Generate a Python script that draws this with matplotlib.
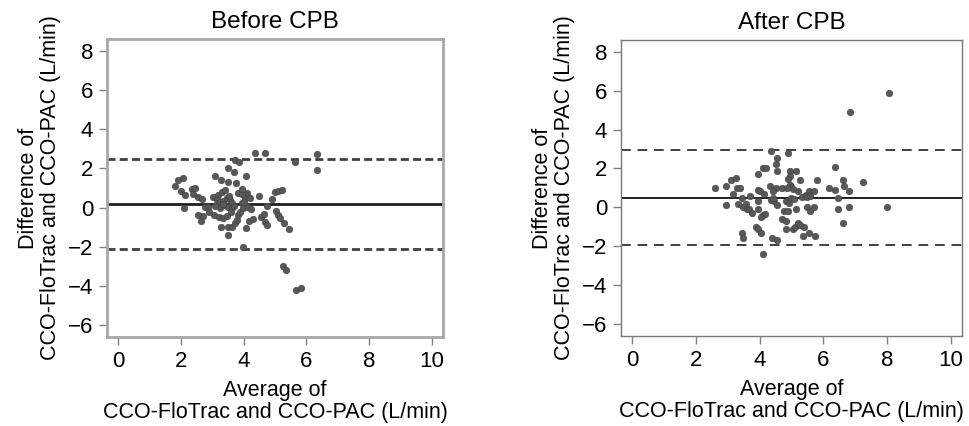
import matplotlib
matplotlib.use('Agg')
import matplotlib.pyplot as plt
import numpy as np

plt.rcParams['font.family'] = ['Liberation Sans', 'DejaVu Sans']

# Before CPB: average (x) and difference (y), L/min
before_avg = [4.36, 4.69, 5.65, 6.33, 6.34, 3.72, 3.85, 3.49, 3.69, 4.09,
              3.09, 3.28, 3.49, 3.76, 2.06, 1.91, 1.82, 2.01, 2.14, 2.35,
              2.46, 2.56, 2.67, 2.09, 2.78, 2.88, 2.56, 2.72, 2.63, 3.04,
              3.20, 3.30, 3.41, 3.15, 3.25, 3.36, 3.47, 3.57, 3.62, 3.25,
              3.39, 3.49, 3.64, 3.06, 3.23, 3.35, 3.46, 3.29, 3.49, 3.62,
              3.49, 3.72, 3.78, 3.83, 3.88, 3.94, 4.04, 4.12, 4.20, 3.83,
              3.94, 3.99, 4.15, 4.23, 4.09, 4.17, 4.30, 3.99, 4.48, 4.57,
              4.65, 4.69, 4.73, 4.76, 4.89, 4.99, 5.10, 5.23, 5.02, 5.10,
              5.15, 5.28, 5.43, 5.27, 5.36, 5.68, 5.83, 3.94, 2.90, 3.55,
              3.70, 3.33, 3.60, 4.00, 2.40, 3.10]
before_diff = [2.81, 2.81, 2.31, 2.72, 1.90, 2.43, 2.31, 2.00, 1.80, 1.62,
               1.62, 1.43, 1.33, 1.24, 1.53, 1.41, 1.12, 0.85, 0.65, 0.95,
               1.02, 0.56, 0.44, 0.00, 0.02, 0.02, -0.37, -0.41, -0.68, 0.56,
               0.65, 0.82, 0.88, 0.39, 0.31, 0.34, 0.48, 0.39, 0.22, 0.00,
               0.14, 0.05, -0.03, -0.37, -0.46, -0.51, -0.41, -1.00, -1.00, -0.97,
               -1.39, -0.80, -0.63, -0.37, -0.20, 0.22, 0.48, 0.73, 0.51, 0.73,
               0.68, -0.03, 0.05, -0.07, -1.02, -0.68, -0.60, -2.00, 0.61, -0.46,
               -0.34, -0.71, -0.88, 0.10, 0.43, 0.82, 0.85, 0.90, -0.17, -0.37,
               -0.54, -0.80, -1.09, -2.96, -3.18, -4.20, -4.08, 0.95, -0.20, 0.60,
               0.10, 0.20, -0.20, 0.30, 0.70, 0.10]
before_bias = 0.17
before_loa = [2.48, -2.12]

# After CPB
after_avg = [8.05, 6.84, 7.99, 4.35, 4.90, 4.54, 4.50, 4.54, 3.95, 4.09,
             4.20, 4.94, 5.15, 4.96, 4.90, 5.28, 4.96, 4.99, 5.79, 6.35,
             6.61, 6.64, 6.79, 7.24, 6.19, 6.35, 6.45, 6.45, 6.79, 6.60,
             2.60, 2.95, 3.10, 3.26, 3.15, 3.29, 3.39, 3.45, 3.58, 3.70,
             3.31, 2.95, 3.47, 3.60, 3.68, 3.76, 3.95, 4.02, 4.14, 3.95,
             3.96, 4.12, 4.17, 4.04, 3.88, 3.95, 4.05, 3.44, 3.49, 4.09,
             4.40, 4.54, 4.33, 4.50, 4.41, 4.70, 4.36, 4.44, 4.54, 4.42,
             4.83, 4.92, 4.99, 5.08, 5.20, 5.34, 5.44, 5.54, 5.70, 5.49,
             5.59, 4.77, 4.88, 5.15, 5.49, 5.59, 5.70, 4.70, 4.84, 4.84,
             5.05, 5.12, 5.20, 5.28, 5.40, 5.35, 5.55, 5.75, 4.86, 5.05]
after_diff = [5.88, 4.88, 0.00, 2.89, 2.79, 2.52, 2.21, 1.89, 1.70, 2.00,
              2.00, 1.89, 1.89, 1.63, 1.46, 1.39, 1.16, 1.04, 1.39, 2.09,
              1.39, 1.11, 0.82, 1.31, 1.00, 0.90, 0.49, -0.10, 0.00, -0.80,
              1.00, 1.11, 1.39, 1.50, 0.71, 1.00, 1.00, 0.49, 0.20, 0.60,
              0.20, 0.10, 0.00, -0.10, -0.10, -0.29, 0.90, 0.82, 0.71, 0.31,
              -0.10, -0.37, -0.32, -0.51, -0.99, -1.09, -1.29, -1.29, -1.58, -2.38,
              -1.58, -1.68, 1.11, 1.02, 0.82, 1.00, 0.39, 0.31, 0.14, 0.48,
              0.31, 0.22, 0.48, 0.43, 0.82, 0.56, 0.65, 0.82, 0.82, 0.51,
              0.61, -0.20, -0.20, -0.10, 0.00, -0.20, 0.00, -0.60, -0.71, -1.09,
              -1.09, -0.99, -0.80, -0.88, -0.99, -1.48, -1.29, -1.48, 1.02, 0.95]
after_bias = 0.49
after_loa = [2.94, -1.94]

titles = ['Before CPB', 'After CPB']
xticks = [0, 2, 4, 6, 8, 10]
yticks = [-6, -4, -2, 0, 2, 4, 6, 8]

fig = plt.figure(figsize=(9.69, 4.26), dpi=100)
ax1 = fig.add_axes([0.1104, 0.2089, 0.3468, 0.6995])
ax2 = fig.add_axes([0.6409, 0.2113, 0.3519, 0.6950])

panels = [
    (ax1, before_avg, before_diff, before_bias, before_loa, '#a8a8a8', 2.0, 2.0, [2.9, 1.5]),
    (ax2, after_avg, after_diff, after_bias, after_loa, '#7a7a7a', 1.0, 1.4, [5, 3.5]),
]
for i, (ax, xs, ys, bias, loa, frame_col, frame_lw, line_lw, dash) in enumerate(panels):
    ax.scatter(xs, ys, s=22, color='#585858', edgecolors='#404040', linewidths=0.4, zorder=3)
    ax.axhline(bias, color='#202020', lw=line_lw, zorder=2)
    for v in loa:
        ax.axhline(v, color='#404040', lw=line_lw, dashes=dash, zorder=2)
    ax.set_xlim(-0.35, 10.35)
    ax.set_ylim(-6.6, 8.6)
    ax.set_xticks(xticks)
    ax.set_yticks(yticks)
    for sp in ax.spines.values():
        sp.set_color(frame_col)
        sp.set_linewidth(frame_lw)
    ax.tick_params(length=6, width=1, color='#808080', labelsize=16, pad=4)
    ax.set_title(titles[i], fontsize=17.5, pad=8)
    ax.set_xlabel('Average of\nCCO-FloTrac and CCO-PAC (L/min)', fontsize=15.5, labelpad=6,
                  linespacing=1.05)
    ax.set_ylabel('Difference of\nCCO-FloTrac and CCO-PAC (L/min)', fontsize=15.5, labelpad=5,
                  linespacing=1.05)

fig.savefig('out.png', dpi=100)
